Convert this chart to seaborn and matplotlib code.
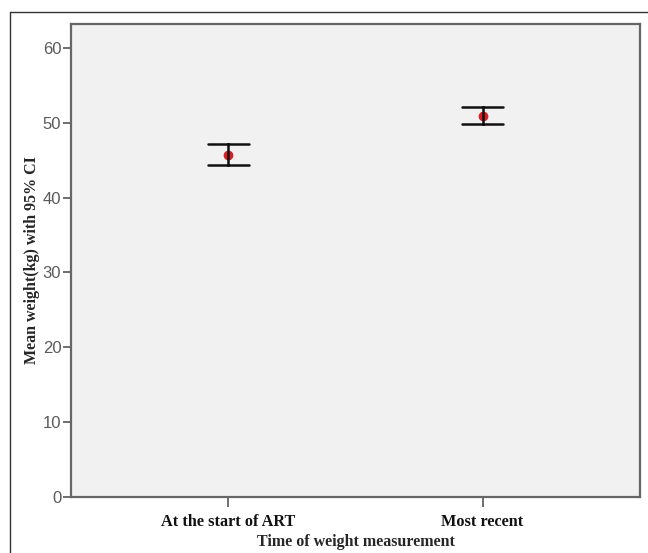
import pandas as pd
import matplotlib.pyplot as plt
import seaborn as sns
from matplotlib.lines import Line2D

# Mean weight with 95% CI
times = ['At the start of ART', 'Most recent']
mean_kg = [45.7, 50.9]
ci_low = [44.4, 49.8]
ci_high = [47.1, 52.1]

# long table: lower / mean / upper for every group (median = mean, min-max = CI)
rows = []
for t, lo, m, hi in zip(times, ci_low, mean_kg, ci_high):
    for v in (lo, m, hi):
        rows.append({'time': t, 'weight': v})
df = pd.DataFrame(rows)

sns.set_style('white')
plt.rcParams['font.family'] = ['Liberation Sans', 'DejaVu Sans']

fig = plt.figure(figsize=(6.48, 5.53), dpi=100)
ax = fig.add_axes([71 / 648, 1 - 497 / 553, (640 - 71) / 648, (497 - 24) / 553])
ax.set_facecolor('#f1f1f1')

sns.pointplot(data=df, x='time', y='weight', order=times,
              estimator='median', errorbar=lambda x: (x.min(), x.max()),
              linestyle='none', color='#d42027', markersize=5,
              capsize=0.16, err_kws={'color': '#111111', 'linewidth': 1.8},
              ax=ax)

ax.set_ylim(0, 63.2)
ax.set_xlim(-0.62, 1.62)
ax.set_yticks([0, 10, 20, 30, 40, 50, 60])

serif_bold = dict(family=['Liberation Serif', 'DejaVu Serif'], fontweight='bold', fontsize=11.5)
ax.set_xlabel('Time of weight measurement', labelpad=3, **serif_bold)
ax.set_ylabel('Mean weight(kg) with 95% CI', labelpad=2, **serif_bold)

ax.tick_params(axis='y', length=6, width=1.2, color='#555555', labelsize=12,
               labelcolor='#5a5a5a', pad=1, left=True)
ax.tick_params(axis='x', length=7, width=1.2, color='#555555', pad=5, bottom=True)
for lab in ax.get_xticklabels():
    lab.set_fontfamily(['Liberation Serif', 'DejaVu Serif'])
    lab.set_fontweight('bold')
    lab.set_fontsize(11.7)
    lab.set_color('#111111')

for side in ['left', 'bottom', 'top', 'right']:
    ax.spines[side].set_visible(True)
    ax.spines[side].set_color('#666666')
    ax.spines[side].set_linewidth(1.6)

# outer frame (left and top edges)
fig.add_artist(Line2D([10 / 648, 10 / 648], [0, 1 - 12 / 553],
                      transform=fig.transFigure, color='#333333', linewidth=1))
fig.add_artist(Line2D([10 / 648, 1], [1 - 12 / 553, 1 - 12 / 553],
                      transform=fig.transFigure, color='#333333', linewidth=1))

plt.savefig('out.png', dpi=100, facecolor='white')
